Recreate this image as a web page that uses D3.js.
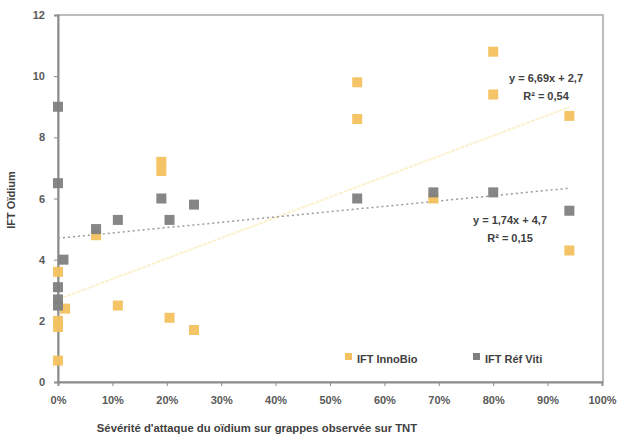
<!DOCTYPE html>
<html>
<head>
<meta charset="utf-8">
<script src="https://cdn.jsdelivr.net/npm/d3@7"></script>
<style>
  body { margin: 0; background: #fff; }
  svg { display: block; }
  text { font-family: "Liberation Sans", Arial, sans-serif; font-weight: bold; }
</style>
</head>
<body>
<svg id="chart" width="619" height="439"></svg>
<script>
// ---- data ----
const innoBioX = [0, 0, 0, 0.013, 0, 0.07, 0.11, 0.205, 0.25, 0.19, 0.19, 0.55, 0.55, 0.69, 0.80, 0.80, 0.94, 0.94];
const innoBioY = [0.7, 1.8, 2.0, 2.4, 3.6, 4.8, 2.5, 2.1, 1.7, 7.2, 6.9, 9.8, 8.6, 6.0, 10.8, 9.4, 8.7, 4.3];
const refVitiX = [0, 0, 0.01, 0, 0, 0, 0.07, 0.11, 0.19, 0.205, 0.25, 0.55, 0.69, 0.80, 0.94];
const refVitiY = [9.0, 6.5, 4.0, 3.1, 2.7, 2.5, 5.0, 5.3, 6.0, 5.3, 5.8, 6.0, 6.2, 6.2, 5.6];
const seriesNames = ["IFT InnoBio", "IFT Réf Viti"];
const trendInnoBio = [6.69, 2.7];   // slope, intercept
const trendRefViti = [1.74, 4.7];
const eqLabels = ["y = 6,69x + 2,7", "R² = 0,54", "y = 1,74x + 4,7", "R² = 0,15"];
const xTicks = [0, 0.1, 0.2, 0.3, 0.4, 0.5, 0.6, 0.7, 0.8, 0.9, 1.0];
const yTicks = [0, 2, 4, 6, 8, 10, 12];
const xTitle = "Sévérité d'attaque du oïdium sur grappes observée sur TNT";
const yTitle = "IFT Oïdium";

// ---- layout ----
const svg = d3.select("#chart");
const pL = 58, pR = 602, pT = 15, pB = 382;
const x = d3.scaleLinear().domain([0, 1]).range([pL, pR]);
const y = d3.scaleLinear().domain([0, 12]).range([pB, pT]);
const cOrange = "#F3C15F", cGray = "#7F7F7F", cText = "#404040", cAxis = "#8C8C8C";

// plot frame
svg.append("rect").attr("x", pL).attr("y", pT).attr("width", pR - pL + 1).attr("height", pB - pT)
  .attr("fill", "none").attr("stroke", "#A6A6A6").attr("stroke-width", 1.5);

// axes
const xAxis = d3.axisBottom(x).tickValues(xTicks).tickFormat(d3.format(".0%")).tickSize(4).tickPadding(8);
const gx = svg.append("g").attr("transform", `translate(0,${pB})`).call(xAxis);
gx.select(".domain").attr("stroke", cAxis).attr("stroke-width", 2);
gx.selectAll(".tick line").attr("stroke", cAxis);
gx.selectAll(".tick text").attr("fill", "#595959").style("font-size", "11px").attr("dy", "0.9em");

const yAxis = d3.axisLeft(y).tickValues(yTicks).tickFormat(d3.format("d")).tickSize(4).tickPadding(9);
const gy = svg.append("g").attr("transform", `translate(${pL},0)`).call(yAxis);
gy.select(".domain").attr("stroke", cAxis).attr("stroke-width", 2);
gy.selectAll(".tick line").attr("stroke", cAxis);
gy.selectAll(".tick text").attr("fill", "#595959").style("font-size", "11px");

// titles
svg.append("text").attr("x", 257).attr("y", 432).attr("text-anchor", "middle")
  .attr("fill", cText).style("font-size", "11.3px").text(xTitle);
svg.append("text").attr("transform", `translate(15,200) rotate(-90)`).attr("text-anchor", "middle")
  .attr("fill", cText).style("font-size", "11px").text(yTitle);

// trend lines
const xMax = d3.max(innoBioX);
function trend(coef, color, dash, width) {
  const line = d3.line().x(d => x(d)).y(d => y(coef[0] * d + coef[1]));
  svg.append("path").datum([0, xMax]).attr("d", line)
    .attr("fill", "none").attr("stroke", color).attr("stroke-width", width).attr("stroke-dasharray", dash);
}
trend(trendInnoBio, "#FCF0CF", "4,1", 2);
trend(trendRefViti, "#9A9A9A", "2,3", 1.5);

// markers
const ms = 10;
function markers(xs, ys, color) {
  svg.append("g").selectAll("rect").data(xs.map((d, i) => [d, ys[i]])).join("rect")
    .attr("x", d => x(d[0]) - ms / 2).attr("y", d => y(d[1]) - ms / 2)
    .attr("width", ms).attr("height", ms).attr("fill", color).attr("opacity", 0.95);
}
markers(innoBioX, innoBioY, cOrange);
markers(refVitiX, refVitiY, cGray);

// equations
const eq = svg.append("g").attr("fill", cText).style("font-size", "11px").attr("text-anchor", "middle");
eq.append("text").attr("x", 546).attr("y", 82).text(eqLabels[0]);
eq.append("text").attr("x", 546).attr("y", 100).text(eqLabels[1]);
eq.append("text").attr("x", 510).attr("y", 224).text(eqLabels[2]);
eq.append("text").attr("x", 510).attr("y", 242).text(eqLabels[3]);

// legend
const legend = svg.append("g").style("font-size", "11px");
[[345, cOrange], [473, cGray]].forEach((p, i) => {
  legend.append("rect").attr("x", p[0]).attr("y", 353).attr("width", 7).attr("height", 7).attr("fill", p[1]);
  legend.append("text").attr("x", p[0] + 12).attr("y", 363).attr("fill", cText).text(seriesNames[i]);
});
</script>
</body>
</html>
